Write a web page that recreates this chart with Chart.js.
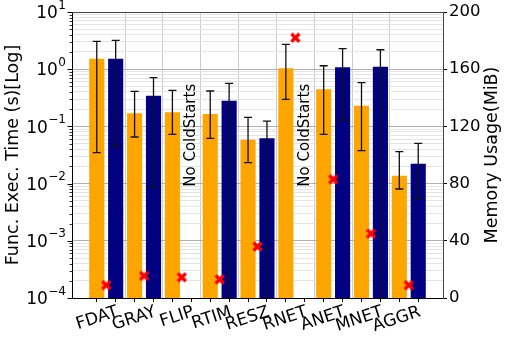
<!DOCTYPE html>
<html>
<head>
<meta charset="utf-8">
<script src="https://cdn.jsdelivr.net/npm/chart.js@4.4.0/dist/chart.umd.min.js"></script>
<style>
  html, body { margin: 0; padding: 0; background: #fff; }
  #chart { display: block; }
</style>
</head>
<body>
<canvas id="chart" width="507" height="343"></canvas>
<script>
// benchmark names on the x axis
const categories = ['FDAT', 'GRAY', 'FLIP', 'RTIM', 'RESZ', 'RNET', 'ANET', 'MNET', 'AGGR'];

// orange bars: exec time (s), with error bar ends
const warmTime = [1.53, 0.169, 0.176, 0.165, 0.0586, 1.035, 0.445, 0.230, 0.0137];
const warmLow  = [0.0347, 0.0653, 0.0727, 0.0618, 0.0232, 0.297, 0.0727, 0.0376, 0.00805];
const warmHigh = [3.07, 0.41, 0.428, 0.416, 0.144, 2.72, 1.15, 0.582, 0.0361];

// navy bars: cold start exec time (s), null = no cold starts; 0 = error bar runs below the axis
const coldTime = [1.53, 0.344, null, 0.282, 0.0618, null, 1.08, 1.106, 0.0223];
const coldLow  = [0.0454, 0.0086, null, 0, 0, null, 0.128, 0, 0.00544];
const coldHigh = [3.2, 0.711, null, 0.567, 0.124, null, 2.29, 2.19, 0.0506];

// red markers: memory usage (MiB), right axis
const memoryMiB = [9, 15.5, 14.5, 13, 36, 182, 83, 45, 9];

// axis ticks
const logDecades = [-4, -3, -2, -1, 0, 1];
const memTicks = [0, 40, 80, 120, 160, 200];
const noColdText = 'No ColdStarts';

const FONT = "'DejaVu Sans', sans-serif";
Chart.defaults.font.family = FONT;
Chart.defaults.font.size = 16;
Chart.defaults.color = '#000';

const CLEAR = 'rgba(0,0,0,0)';
const isDecade = v => Math.abs(Math.log10(v) - Math.round(Math.log10(v))) < 1e-6;
const isHalf = v => Math.abs(v - Math.floor(v) - 0.5) < 1e-6;
const expText = k => (k < 0 ? '\u2212' + Math.abs(k) : String(k));

// filled "X" marker like matplotlib's
const markerImg = (() => {
  const c = document.createElement('canvas');
  c.width = 11; c.height = 11;
  const g = c.getContext('2d');
  g.strokeStyle = '#ff0000';
  g.lineWidth = 3.4;
  g.beginPath();
  g.moveTo(1.5, 1.5); g.lineTo(9.5, 9.5);
  g.moveTo(9.5, 1.5); g.lineTo(1.5, 9.5);
  g.stroke();
  return c;
})();

const extras = {
  id: 'extras',
  afterDatasetsDraw(chart) {
    const ctx = chart.ctx, area = chart.chartArea, y = chart.scales.y;
    // error bars
    ctx.save();
    ctx.beginPath();
    ctx.rect(area.left, area.top, area.right - area.left, area.bottom - area.top);
    ctx.clip();
    ctx.strokeStyle = '#111';
    ctx.lineWidth = 1.3;
    [[0, warmLow, warmHigh], [1, coldLow, coldHigh]].forEach(([di, lo, hi]) => {
      chart.getDatasetMeta(di).data.forEach((bar, i) => {
        if (lo[i] === null) return;
        const yl = lo[i] > 0 ? y.getPixelForValue(lo[i]) : area.bottom + 2;
        const yh = y.getPixelForValue(hi[i]);
        ctx.beginPath();
        ctx.moveTo(bar.x, yl); ctx.lineTo(bar.x, yh);
        ctx.moveTo(bar.x - 4, yh); ctx.lineTo(bar.x + 4, yh);
        if (lo[i] > 0) { ctx.moveTo(bar.x - 4, yl); ctx.lineTo(bar.x + 4, yl); }
        ctx.stroke();
      });
    });
    ctx.restore();

    // "No ColdStarts" where the navy bar is missing
    const cold = chart.getDatasetMeta(1);
    ctx.save();
    ctx.font = '15px ' + FONT;
    ctx.fillStyle = '#000';
    ctx.textAlign = 'center';
    ctx.textBaseline = 'middle';
    coldTime.forEach((v, i) => {
      if (v !== null) return;
      ctx.save();
      ctx.translate(cold.data[i].x, y.getPixelForValue(0.07));
      ctx.rotate(-Math.PI / 2);
      ctx.fillText(noColdText, 0, 0);
      ctx.restore();
    });
    ctx.restore();
  },
  afterDraw(chart) {
    const ctx = chart.ctx, area = chart.chartArea, y = chart.scales.y;
    ctx.save();
    // top frame line
    ctx.strokeStyle = '#444';
    ctx.lineWidth = 1;
    const ty = Math.round(area.top) + 0.5;
    ctx.beginPath(); ctx.moveTo(area.left, ty); ctx.lineTo(area.right, ty); ctx.stroke();

    // log axis tick marks
    ctx.strokeStyle = '#000';
    y.ticks.forEach(t => {
      const py = Math.round(y.getPixelForValue(t.value)) + 0.5;
      const major = isDecade(t.value);
      ctx.lineWidth = major ? 1 : 0.8;
      ctx.beginPath();
      ctx.moveTo(area.left, py);
      ctx.lineTo(area.left - (major ? 4.5 : 2.5), py);
      ctx.stroke();
    });

    // log axis labels 10^k
    ctx.fillStyle = '#000';
    ctx.textAlign = 'left';
    ctx.textBaseline = 'alphabetic';
    const xEnd = area.left - 6;
    logDecades.forEach(k => {
      const py = y.getPixelForValue(Math.pow(10, k));
      const e = expText(k);
      ctx.font = '12px ' + FONT;
      const we = ctx.measureText(e).width;
      ctx.font = '17px ' + FONT;
      const wb = ctx.measureText('10').width;
      ctx.fillText('10', xEnd - we - wb - 0.5, py + 6.2);
      ctx.font = '12px ' + FONT;
      ctx.fillText(e, xEnd - we, py - 3.5);
    });

    // right axis title
    ctx.font = '17.5px ' + FONT;
    ctx.textAlign = 'center';
    ctx.textBaseline = 'middle';
    ctx.translate(492, (area.top + area.bottom) / 2);
    ctx.rotate(-Math.PI / 2);
    ctx.fillText('Memory Usage(MiB)', 0, 0);
    ctx.restore();
  }
};

new Chart(document.getElementById('chart'), {
  type: 'bar',
  data: {
    datasets: [
      {
        type: 'bar', xAxisID: 'x', yAxisID: 'y', order: 1,
        data: warmTime.map((v, i) => ({ x: i, y: v })),
        backgroundColor: '#ffa500',
        categoryPercentage: 1.0, barPercentage: 0.8
      },
      {
        type: 'bar', xAxisID: 'x', yAxisID: 'y', order: 1,
        data: coldTime.map((v, i) => ({ x: i, y: v })),
        backgroundColor: '#000080',
        categoryPercentage: 1.0, barPercentage: 0.8
      },
      {
        type: 'line', xAxisID: 'x', yAxisID: 'y1', order: 0,
        data: memoryMiB.map((v, i) => ({ x: i, y: v })),
        showLine: false,
        pointStyle: markerImg
      }
    ]
  },
  options: {
    responsive: false,
    devicePixelRatio: 1,
    animation: false,
    events: [],
    layout: { padding: { top: 12, left: 0, right: 0, bottom: 0 } },
    plugins: { legend: { display: false }, tooltip: { enabled: false } },
    scales: {
      x: {
        type: 'linear', position: 'bottom', min: -0.905, max: 8.905, weight: 1, offset: false,
        afterBuildTicks: s => { s.ticks = categories.map((_, i) => ({ value: i + 0.25 })); },
        afterFit: s => { s.height = 45; },
        ticks: {
          autoSkip: false, minRotation: 18, maxRotation: 18, padding: 0, labelOffset: 2,
          font: { size: 17 },
          callback: v => categories[Math.round(v - 0.25)]
        },
        grid: { offset: false, drawOnChartArea: false, tickLength: 4, tickColor: '#000' },
        border: { color: '#000' }
      },
      xg: {
        type: 'linear', position: 'bottom', min: -0.905, max: 8.905, weight: 0, offset: false,
        afterBuildTicks: s => {
          const t = [];
          categories.forEach((_, i) => {
            t.push({ value: i - 0.25 });
            if (i < categories.length - 1) t.push({ value: i + 0.5 });
          });
          s.ticks = t;
        },
        afterFit: s => { s.height = 0; },
        ticks: { display: false },
        grid: {
          offset: false,
          color: c => (c.tick && isHalf(c.tick.value) ? '#cccccc' : CLEAR),
          tickColor: c => (c.tick && !isHalf(c.tick.value) ? '#000' : CLEAR),
          tickLength: 4
        },
        border: { display: false }
      },
      y: {
        type: 'logarithmic', position: 'left', min: 1e-4, max: 10,
        afterBuildTicks: s => {
          const t = [];
          logDecades.forEach(k => {
            for (let m = 1; m <= 9; m++) {
              if (k === 1 && m > 1) break;
              t.push({ value: m * Math.pow(10, k) });
            }
          });
          s.ticks = t;
        },
        afterFit: s => { s.width = 72; },
        ticks: { display: false },
        grid: {
          drawTicks: false,
          color: c => (c.tick && isDecade(c.tick.value) ? '#b0b0b0' : '#e4e4e4')
        },
        border: { color: '#000' },
        title: {
          display: true, text: 'Func. Exec. Time (s)[Log]',
          font: { size: 17.5 }, padding: { top: 3, bottom: 0 }
        }
      },
      y1: {
        type: 'linear', position: 'right', min: 0, max: 200,
        afterBuildTicks: s => { s.ticks = memTicks.map(v => ({ value: v })); },
        afterFit: s => { s.width = 64; },
        ticks: { font: { size: 16.5 }, padding: 2 },
        grid: { drawOnChartArea: false, tickLength: 4, tickColor: '#000' },
        border: { color: '#444' }
      }
    }
  },
  plugins: [extras]
});
</script>
</body>
</html>
